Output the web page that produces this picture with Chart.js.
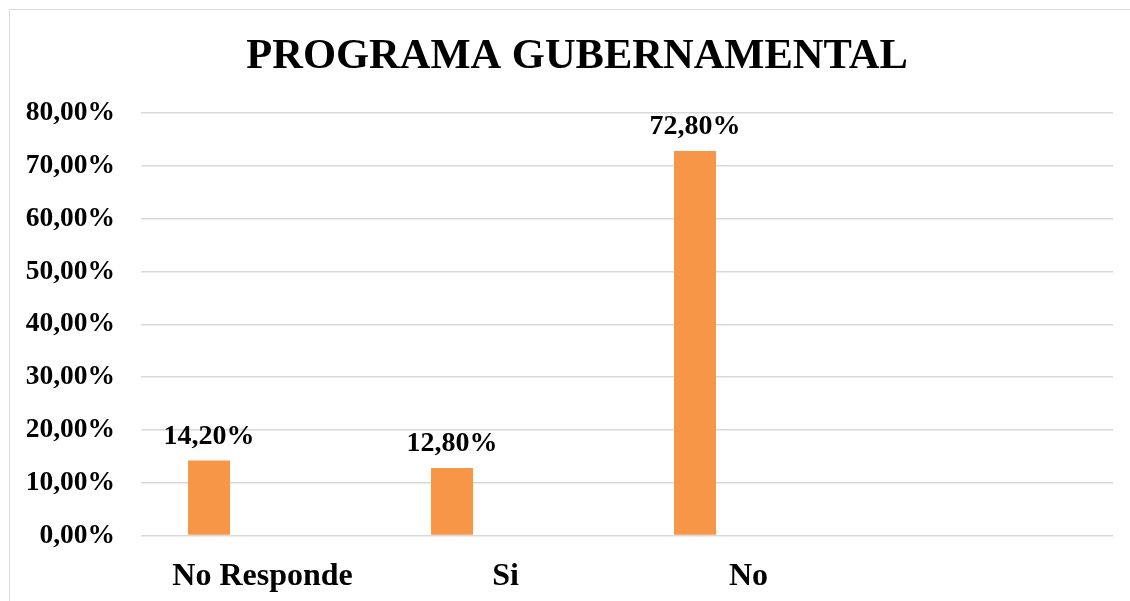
<!DOCTYPE html>
<html lang="es">
<head>
  <meta charset="UTF-8" />
  <title>Programa Gubernamental</title>
  <script src="https://cdn.jsdelivr.net/npm/chart.js"></script>
  <style>
    * { margin: 0; padding: 0; box-sizing: border-box; }
    body { background: #fff; width: 1130px; height: 601px; overflow: hidden; position: relative; }
    .chart-box {
      position: absolute;
      left: 9px;
      top: 9px;
      width: 1136px;
      height: 610px;
      border: 1px solid #d9d9d9;
      background: #fff;
    }
    canvas { display: block; }
  </style>
</head>
<body>
  <div class="chart-box">
    <canvas id="chart" width="1134" height="608"></canvas>
  </div>

  <script>
    const categorias = ["No Responde", "Si", "No", ""];
    const porcentajes = [14.2, 12.8, 72.8, null];
    const serieVacia = [null, null, null, null];
    const yMax = 80;
    const yPaso = 10;

    const fuente = '"Liberation Serif", "Times New Roman", serif';
    const fmt = v => v.toFixed(2).replace('.', ',') + '%';

    const etiquetas = {
      id: 'etiquetas',
      afterDatasetsDraw(chart) {
        const ctx = chart.ctx;
        const meta = chart.getDatasetMeta(0);
        ctx.save();
        ctx.font = 'bold 28px ' + fuente;
        ctx.fillStyle = '#000';
        ctx.textAlign = 'center';
        ctx.textBaseline = 'alphabetic';
        meta.data.forEach((bar, i) => {
          const v = porcentajes[i];
          if (v == null) return;
          ctx.fillText(fmt(v), bar.x, bar.y - 17);
        });
        ctx.restore();
      }
    };

    new Chart(document.getElementById('chart'), {
      type: 'bar',
      data: {
        labels: categorias,
        datasets: [
          { data: porcentajes, backgroundColor: '#f79646', categoryPercentage: 0.88, barPercentage: 0.393 },
          { data: serieVacia, backgroundColor: '#f79646', categoryPercentage: 0.88, barPercentage: 0.393 }
        ]
      },
      options: {
        responsive: false,
        animation: false,
        layout: { padding: { left: 0, right: 0, top: 0, bottom: 0 } },
        plugins: {
          legend: { display: false },
          tooltip: { enabled: false },
          title: {
            display: true,
            text: 'PROGRAMA GUBERNAMENTAL',
            color: '#000',
            font: { family: fuente, size: 42.5, weight: 'bold' },
            padding: { top: 22, bottom: 30 }
          }
        },
        scales: {
          x: {
            grid: { display: false, drawTicks: false },
            border: { display: false },
            ticks: {
              color: '#000',
              font: { family: fuente, size: 32, weight: 'bold' },
              padding: 22,
              maxRotation: 0
            }
          },
          y: {
            min: 0,
            max: yMax,
            afterFit: s => { s.width = 131; },
            grid: { color: '#d9d9d9', lineWidth: 1.5, drawTicks: false },
            border: { display: false },
            ticks: {
              stepSize: yPaso,
              color: '#000',
              font: { family: fuente, size: 27.5, weight: 'bold' },
              padding: 26,
              callback: v => fmt(v)
            }
          },
          // eje derecho vacío: deja el margen derecho del área de trazado
          y2: {
            position: 'right',
            min: 0,
            max: yMax,
            afterFit: s => { s.width = 31; },
            grid: { display: false, drawTicks: false },
            border: { display: false },
            ticks: { display: false }
          }
        }
      },
      plugins: [etiquetas]
    });
  </script>
</body>
</html>
